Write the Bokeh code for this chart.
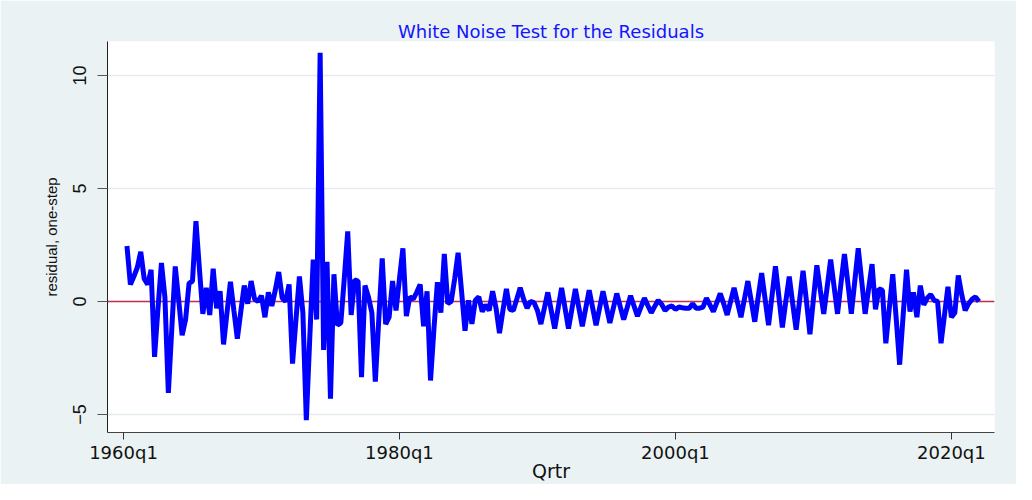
import math
from bokeh.plotting import figure
from bokeh.models import FixedTicker, Span, ColumnDataSource
from bokeh.embed import file_html
from bokeh.resources import INLINE

# Quarterly index: 0 = 1960q1 (Stata %tq convention); series starts 1960q2
start_qtr = 1

resid_1960s = [2.45, 0.75, 1.1, 1.5, 2.2, 1.0, 0.75, 1.4, -2.45, -0.3,
               1.7, 0.2, -4.05, -1.2, 1.55, 0.05, -1.5, -0.8, 0.8, 0.9,
               3.55, 1.45, -0.55, 0.6, -0.6, 1.45, -0.3, 0.45, -1.9, -0.5,
               0.87, -0.4, -1.65, -0.45, 0.7, -0.1, 0.9, 0.1, 0.0]
resid_1970s = [0.25, -0.7, 0.4, -0.2, 0.5, 1.3, 0.15, 0.0, 0.75, -2.75,
               -0.8, 1.1, -0.5, -5.25, -1.6, 1.85, -0.8, 11.0, -2.15, 1.75,
               -4.3, 1.2, -1.05, -0.95, 1.0, 3.1, -0.6, 0.95, 0.9, -3.35,
               0.7, 0.2, -0.5, -3.55, -0.8, 1.9, -1.0, -0.7, 0.9, -0.4]
resid_1980s = [1.0, 2.35, -0.65, 0.2, 0.1, 0.4, 0.75, -1.1, 0.45, -3.5,
               -1.2, 0.85, -0.5, 2.1, -0.1, 0.0, 1.0, 2.15, 0.45, -1.3,
               0.05, -1.0, 0.05, 0.2, -0.45, -0.15, -0.4, 0.45, -0.3, -1.4,
               -0.4, 0.55, -0.35, -0.4, 0.1, 0.6, 0.1, -0.3, 0.0, -0.05]
resid_1990s = [-0.4, -1.0, -0.3, 0.4, -0.4, -1.2, -0.3, 0.6, -0.3, -1.2,
               -0.33, 0.55, -0.28, -1.1, -0.3, 0.5, -0.28, -1.05, -0.3, 0.45,
               -0.25, -0.95, -0.3, 0.35, -0.23, -0.8, -0.28, 0.25, -0.2, -0.65,
               -0.25, 0.15, -0.18, -0.5, -0.22, 0.05, -0.13, -0.4, -0.25, -0.2]
resid_2000s = [-0.35, -0.25, -0.28, -0.3, -0.3, -0.1, -0.3, -0.3, -0.25, 0.15,
               -0.15, -0.45, -0.05, 0.35, -0.1, -0.6, 0.0, 0.6, -0.05, -0.7,
               0.1, 0.9, 0.0, -0.9, 0.2, 1.25, 0.1, -1.05, 0.25, 1.55,
               0.2, -1.15, 0.0, 1.1, -0.1, -1.25, 0.05, 1.35, 0.0, -1.45]
resid_2010s = [0.1, 1.6, 0.5, -0.55, 0.65, 1.85, 0.65, -0.55, 0.8, 2.1,
               0.8, -0.55, 0.9, 2.35, 0.9, -0.55, 0.55, 1.65, -0.35, 0.55,
               0.5, -1.85, -0.3, 1.2, -0.75, -2.8, -0.65, 1.4, -0.45, 0.4,
               -0.7, 0.7, -0.15, 0.15, 0.3, 0.05, 0.0, -1.85, -0.6, 0.65]
resid_2020s = [-0.7, -0.5, 1.15, 0.3, -0.4, -0.1, 0.1, 0.2, 0.0]

x_tick_pos = [0, 80, 160, 240]
x_tick_labels = ["1960q1", "1980q1", "2000q1", "2020q1"]
y_ticks = [-5, 0, 5, 10]
ref_level = 0

resid = resid_1960s + resid_1970s + resid_1980s + resid_1990s + resid_2000s + resid_2010s + resid_2020s
qtr = list(range(start_qtr, start_qtr + len(resid)))
src = ColumnDataSource(data=dict(qtr=qtr, resid=resid))

BG = "#EAF2F3"
p = figure(width=1016, height=484, output_backend="svg", toolbar_location=None,
           x_range=(-4.64, 252.5), y_range=(-5.8, 11.5),
           min_border_left=107, min_border_right=22, min_border_top=41, min_border_bottom=52,
           background_fill_color="white", border_fill_color=BG, outline_line_color=None,
           title="White Noise Test for the Residuals")

p.title.text_font = "DejaVu Sans"
p.title.text_font_size = "18px"
p.title.text_font_style = "normal"
p.title.text_color = "#1414ff"
p.title.align = "center"
p.title.standoff = 0

p.add_layout(Span(location=ref_level, dimension="width", line_color="#C8304A",
                  line_width=1.5, level="underlay"))

p.line("qtr", "resid", source=src, line_color="#0000FF", line_width=5, line_join="bevel")

p.xgrid.grid_line_color = None
p.ygrid.grid_line_color = "#E2EBED"
p.ygrid.grid_line_width = 1.5
p.ygrid.ticker = FixedTicker(ticks=y_ticks)

p.yaxis.ticker = FixedTicker(ticks=y_ticks)
p.yaxis.major_label_orientation = "parallel"
p.yaxis.major_label_text_font = "Liberation Sans"
p.yaxis.major_label_text_font_size = "18px"
p.yaxis.major_label_text_color = "#111111"
p.yaxis.major_tick_out = 10
p.yaxis.major_tick_in = 0
p.yaxis.minor_tick_line_color = None
p.yaxis.major_label_standoff = 11
p.yaxis.axis_label = "residual, one-step"
p.yaxis.axis_label_text_font = "Liberation Sans"
p.yaxis.axis_label_text_font_size = "15px"
p.yaxis.axis_label_text_font_style = "normal"
p.yaxis.axis_label_text_color = "#111111"
p.yaxis.axis_label_standoff = 11
p.yaxis.axis_line_color = "#222222"
p.yaxis.major_tick_line_color = "#555555"

p.xaxis.ticker = FixedTicker(ticks=x_tick_pos)
p.xaxis.major_label_overrides = dict(zip(x_tick_pos, x_tick_labels))
p.xaxis.major_label_text_font = "DejaVu Sans"
p.xaxis.major_label_text_font_size = "18px"
p.xaxis.major_label_text_color = "#111111"
p.xaxis.major_tick_out = 7
p.xaxis.major_tick_in = 0
p.xaxis.minor_tick_line_color = None
p.xaxis.major_label_standoff = 2
p.xaxis.axis_label = "Qrtr"
p.xaxis.axis_label_text_font = "DejaVu Sans"
p.xaxis.axis_label_text_font_size = "19px"
p.xaxis.axis_label_text_font_style = "normal"
p.xaxis.axis_label_text_color = "#111111"
p.xaxis.axis_label_standoff = -6
p.xaxis.axis_line_color = "#444444"
p.xaxis.major_tick_line_color = "#333333"

open("out.html", "w").write(file_html(p, INLINE))
